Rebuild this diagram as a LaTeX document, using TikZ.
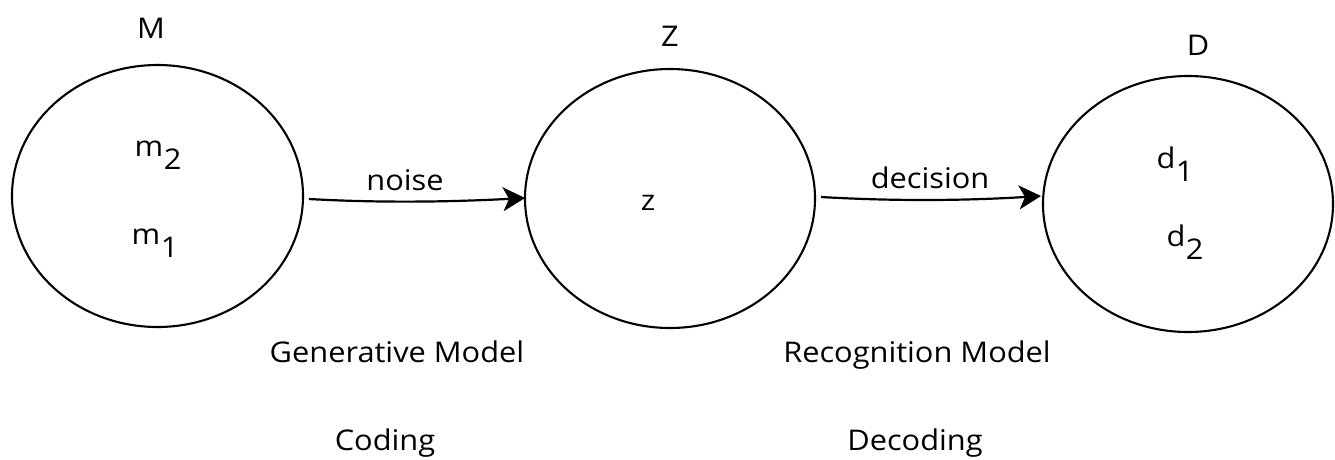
\documentclass[tikz,border=0pt]{standalone}
\usepackage{fontspec}
\setmainfont{Open Sans}[FakeStretch=1.08]
\usetikzlibrary{arrows.meta,shapes.geometric}
\tikzset{
  set/.style={draw, line width=2.1pt, ellipse, inner sep=0pt},
  lbl/.style={font=\fontsize{28.5}{33}\selectfont, inner sep=0pt, anchor=base},
  conn/.style={line width=2.2pt, -{Stealth[length=22pt,width=24pt,inset=6pt]}}
}
\newcommand{\subsc}[2]{#1\kern0.5pt\raisebox{-13pt}{#2}}
\begin{document}
\begin{tikzpicture}[x=1pt,y=-1pt]
\useasboundingbox (0,0) rectangle (1335,459);
\node[set, minimum width=291pt, minimum height=262pt] (M) at (157.5,196) {};
\node[set, minimum width=290pt, minimum height=259pt] (Z) at (670,198.5) {};
\node[set, minimum width=290pt, minimum height=256pt] (D) at (1188,204) {};
\node[lbl] (tM) at (151,38) {M};
\node[lbl] (tZ) at (670,46) {Z};
\node[lbl] (tD) at (1198,55) {D};
\node[lbl] (m2) at (158,156) {\subsc{m}{2}};
\node[lbl] (m1) at (155,244) {\subsc{m}{1}};
\node[lbl] (z) at (648,210) {z};
\node[lbl] (d1) at (1175,168) {\subsc{d}{1}};
\node[lbl] (d2) at (1185,246) {\subsc{d}{2}};
\node[lbl] (noise) at (405,190) {noise};
\node[lbl] (decision) at (930,188) {decision};
\node[lbl] (gen) at (397,362) {Generative Model};
\node[lbl] (rec) at (917,362) {Recognition Model};
\node[lbl] (cod) at (385,450) {Coding};
\node[lbl] (dec) at (915,450) {Decoding};
\coordinate (a1) at (309,199);
\coordinate (b1) at (525,198);
\coordinate (a2) at (821,197);
\coordinate (b2) at (1041,196);
\draw[conn] (a1) .. controls (380,203) and (450,202) .. (b1);
\draw[conn] (a2) .. controls (890,201) and (960,201) .. (b2);
\end{tikzpicture}
\end{document}
